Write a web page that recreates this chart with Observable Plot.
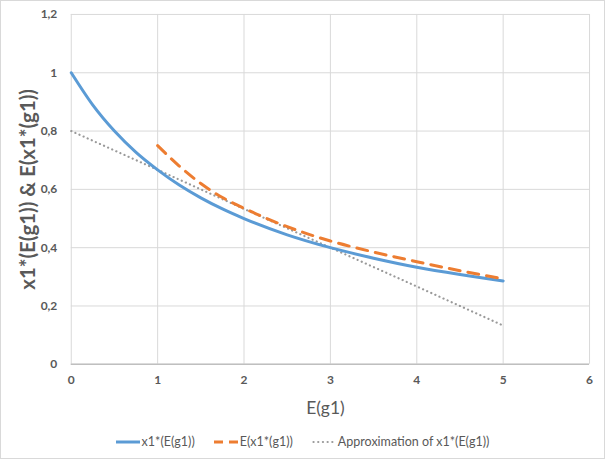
<!DOCTYPE html>
<html>
<head>
<meta charset="utf-8">
<script src="https://cdn.jsdelivr.net/npm/d3@7"></script>
<script src="https://cdn.jsdelivr.net/npm/@observablehq/plot@0.6"></script>
<style>
  html, body { margin: 0; padding: 0; background: #fff; }
  #frame { width: 605px; height: 459px; box-sizing: border-box; border: 1px solid #d9d9d9; position: relative; overflow: hidden; font-family: Lato, "Open Sans", sans-serif; }
  #chart svg { display: block; position: absolute; left: -1px; top: -1px; }
  #legend { position: absolute; top: 433px; left: 0; width: 603px; display: flex; justify-content: center; gap: 19px; font-size: 12.5px; color: #595959; line-height: 16px; }
  .item { display: flex; align-items: center; gap: 1px; }
  .item svg { display: block; }
</style>
</head>
<body>
<div id="frame">
  <div id="chart"></div>
  <div id="legend"></div>
</div>
<script>
const xBlue = [0, 0.25, 0.5, 0.75, 1, 1.25, 1.5, 1.75, 2, 2.5, 3, 3.5, 4, 4.5, 5];
const yBlue = [1, 0.889, 0.8, 0.727, 0.667, 0.615, 0.571, 0.533, 0.5, 0.444, 0.4, 0.364, 0.333, 0.308, 0.286];
const xOrange = [1, 1.25, 1.5, 1.75, 2, 2.5, 3, 3.5, 4, 4.5, 5];
const yOrange = [0.75, 0.68, 0.62, 0.572, 0.535, 0.472, 0.423, 0.385, 0.352, 0.321, 0.293];
const xGray = [0, 1, 2, 3, 4, 5];
const yGray = [0.8, 0.667, 0.533, 0.4, 0.267, 0.133];
const xTicks = [0, 1, 2, 3, 4, 5, 6];
const yTicks = [0, 0.2, 0.4, 0.6, 0.8, 1, 1.2];
const seriesNames = ["x1*(E(g1))", "E(x1*(g1))", "Approximation of x1*(E(g1))"];
const colors = ["#5b9bd5", "#ed7d31", "#a5a5a5"];
const xLabel = "E(g1)";
const yLabel = "x1*(E(g1)) & E(x1*(g1))";

const blue = xBlue.map((x, i) => ({x, y: yBlue[i]}));
const orange = xOrange.map((x, i) => ({x, y: yOrange[i]}));
const gray = xGray.map((x, i) => ({x, y: yGray[i]}));
const fmt = d => String(d).replace(".", ",");

const chart = Plot.plot({
  width: 605,
  height: 425,
  marginTop: 14,
  marginLeft: 71,
  marginRight: 14,
  marginBottom: 60,
  style: { fontFamily: "Lato, 'Open Sans', sans-serif", background: "transparent" },
  x: { domain: [0, 6], ticks: xTicks, tickFormat: fmt, label: null },
  y: { domain: [0, 1.2], ticks: yTicks, tickFormat: fmt, label: null },
  marks: [
    Plot.gridX(xTicks, { stroke: "#d9d9d9", strokeOpacity: 1 }),
    Plot.gridY(yTicks, { stroke: "#d9d9d9", strokeOpacity: 1 }),
    Plot.ruleY([0], { stroke: "#bfbfbf", strokeWidth: 1.5 }),
    Plot.axisX(xTicks, { tickSize: 0, tickPadding: 11, tickFormat: fmt, fontSize: 12, fontWeight: "bold", fill: "#595959", label: null }),
    Plot.axisY(yTicks, { tickSize: 0, tickPadding: 14, tickFormat: fmt, fontSize: 12, fontWeight: "bold", fill: "#595959", label: null }),
    Plot.line(gray, { x: "x", y: "y", stroke: "#9a9a9a", strokeWidth: 2.2, strokeDasharray: "0.1,4.4", strokeLinecap: "round" }),
    Plot.line(blue, { x: "x", y: "y", stroke: colors[0], strokeWidth: 3, curve: "monotone-x" }),
    Plot.line(orange, { x: "x", y: "y", stroke: colors[1], strokeWidth: 3, strokeDasharray: "11,8", curve: "monotone-x" }),
    Plot.text([xLabel], { frameAnchor: "bottom", lineAnchor: "middle", dx: -5, dy: 44, fontSize: 17.5, fill: "#595959", text: d => d }),
    Plot.text([yLabel], { frameAnchor: "left", textAnchor: "middle", lineAnchor: "middle", dx: -43, rotate: -90, fontSize: 20.5, fontWeight: "bold", fill: "#595959", text: d => d })
  ]
});
document.getElementById("chart").appendChild(chart);

const legend = document.getElementById("legend");
const dashes = [null, "9,6", "0.1,4.6"];
const widths = [3, 3, 2.2];
const legendColors = [colors[0], colors[1], "#9a9a9a"];
seriesNames.forEach((name, i) => {
  const item = document.createElement("div");
  item.className = "item";
  item.innerHTML = `<svg width="25" height="8"><line x1="${i === 2 ? 1.5 : 0}" x2="24" y1="4" y2="4" stroke="${legendColors[i]}" stroke-width="${widths[i]}" ${dashes[i] ? `stroke-dasharray="${dashes[i]}"` : ""} stroke-linecap="${i === 2 ? "round" : "butt"}"/></svg><span>${name}</span>`;
  legend.appendChild(item);
});
</script>
</body>
</html>
